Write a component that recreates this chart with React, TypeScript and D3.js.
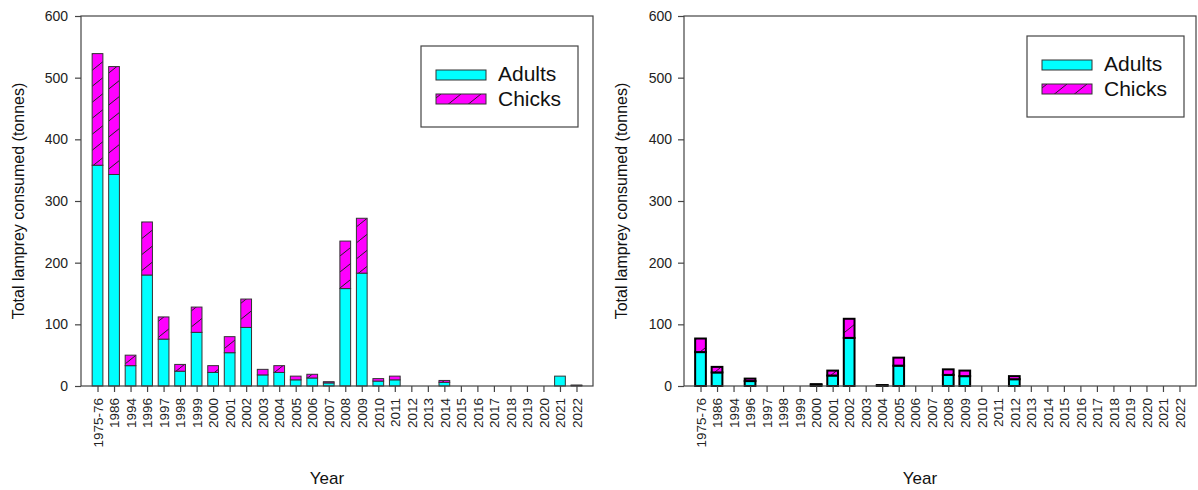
import React, { useRef, useEffect } from "react";
import * as d3 from "d3";

// categories shared by both panels
const years = [
  "1975-76", "1986", "1994", "1996", "1997", "1998", "1999", "2000", "2001", "2002",
  "2003", "2004", "2005", "2006", "2007", "2008", "2009", "2010", "2011", "2012",
  "2013", "2014", "2015", "2016", "2017", "2018", "2019", "2020", "2021", "2022",
];

// left panel (tonnes)
const leftAdults = [358, 343, 33, 180, 76, 24, 87, 22, 54, 95, 18, 22, 10, 13, 5, 158, 183, 8, 10, 0, 0, 6, 0, 0, 0, 0, 0, 0, 16, 1];
const leftChicks = [181, 175, 17, 86, 36, 11, 41, 11, 26, 46, 9, 11, 6, 6, 2, 77, 89, 4, 6, 0, 0, 3, 0, 0, 0, 0, 0, 0, 0, 0.5];

// right panel (tonnes)
const rightAdults = [55, 22, 0, 8, 0, 0, 0, 2, 17, 78, 0, 1, 33, 0, 0, 18, 16, 0, 0, 11, 0, 0, 0, 0, 0, 0, 0, 0, 0, 0];
const rightChicks = [22, 9, 0, 4, 0, 0, 0, 1, 8, 31, 0, 0.5, 13, 0, 0, 9, 9, 0, 0, 5, 0, 0, 0, 0, 0, 0, 0, 0, 0, 0];

const yTicks = [0, 100, 200, 300, 400, 500, 600];

const CYAN = "#00ffff";
const MAGENTA = "#ff00ff";
const FONT = "'Liberation Sans', Arial, sans-serif";

type Panel = {
  adults: number[];
  chicks: number[];
  x0: number;
  x1: number;
  barStroke: string;
  barStrokeWidth: number;
  legendX: number;
  legendY: number;
  yearX: number;
  tickLabelGap: number;
};

const panels: Panel[] = [
  { adults: leftAdults, chicks: leftChicks, x0: 81, x1: 593, barStroke: "#333", barStrokeWidth: 1, legendX: 421, legendY: 46, yearX: 327, tickLabelGap: 13 },
  { adults: rightAdults, chicks: rightChicks, x0: 684, x1: 1196, barStroke: "#000", barStrokeWidth: 2, legendX: 1027, legendY: 36, yearX: 920, tickLabelGap: 12 },
];

const TOP = 16;
const BOTTOM = 386;

const App = () => {
  const svgRef = useRef<SVGSVGElement>(null);

  useEffect(() => {
    const svgEl = d3.select(svgRef.current);
    svgEl.selectAll("*").remove();

    // hatch for chicks
    const defs = svgEl.append("defs");
    const pat = defs
      .append("pattern")
      .attr("id", "hatch")
      .attr("patternUnits", "userSpaceOnUse")
      .attr("width", 20)
      .attr("height", 16);
    pat.append("rect").attr("width", 20).attr("height", 16).attr("fill", MAGENTA);
    pat.append("line").attr("x1", 0).attr("y1", 16).attr("x2", 20).attr("y2", 0)
      .attr("stroke", "#222").attr("stroke-width", 1);

    panels.forEach((p) => {
      const g = svgEl.append("g");
      const x = d3.scalePoint<string>().domain(years).range([p.x0, p.x1]).padding(1);
      const y = d3.scaleLinear().domain([0, 600]).range([BOTTOM, TOP]);
      const bw = x.step() * 0.65;

      // bars
      const rows = years.map((yr, i) => ({ yr, a: p.adults[i], c: p.chicks[i] }));
      rows.forEach((d) => {
        const cx = x(d.yr)! - bw / 2;
        if (d.a > 0) {
          g.append("rect")
            .attr("x", cx).attr("y", y(d.a))
            .attr("width", bw).attr("height", y(0) - y(d.a))
            .attr("fill", CYAN).attr("stroke", p.barStroke).attr("stroke-width", p.barStrokeWidth);
        }
        if (d.c > 0) {
          g.append("rect")
            .attr("x", cx).attr("y", y(d.a + d.c))
            .attr("width", bw).attr("height", y(d.a) - y(d.a + d.c))
            .attr("fill", "url(#hatch)").attr("stroke", p.barStroke).attr("stroke-width", p.barStrokeWidth);
        }
      });

      // frame
      g.append("rect")
        .attr("x", p.x0).attr("y", TOP)
        .attr("width", p.x1 - p.x0).attr("height", BOTTOM - TOP)
        .attr("fill", "none").attr("stroke", "#444").attr("stroke-width", 1.2);

      // y axis
      const yAxis = g.append("g")
        .attr("transform", `translate(${p.x0},0)`)
        .call(d3.axisLeft(y).tickValues(yTicks).tickSize(6).tickPadding(p.tickLabelGap - 6));
      yAxis.select(".domain").remove();
      yAxis.selectAll("line").attr("stroke", "#444").attr("stroke-width", 1.2);
      yAxis.selectAll("text")
        .attr("font-family", FONT).attr("font-size", 14).attr("fill", "#222");

      // x axis
      const xAxis = g.append("g")
        .attr("transform", `translate(0,${BOTTOM})`)
        .call(d3.axisBottom(x).tickSize(6));
      xAxis.select(".domain").remove();
      xAxis.selectAll("line").attr("stroke", "#444").attr("stroke-width", 1.2);
      xAxis.selectAll("text")
        .attr("font-family", FONT).attr("font-size", 13.5).attr("fill", "#222")
        .attr("text-anchor", "end")
        .attr("transform", "rotate(-90)")
        .attr("x", -12).attr("y", 0).attr("dy", "0.35em");

      // titles
      g.append("text")
        .attr("transform", `translate(${p.x0 - 63},${(TOP + BOTTOM) / 2}) rotate(-90)`)
        .attr("text-anchor", "middle").attr("dy", "0.35em")
        .attr("font-family", FONT).attr("font-size", 16).attr("fill", "#111")
        .text("Total lamprey consumed (tonnes)");
      g.append("text")
        .attr("x", p.yearX).attr("y", 484)
        .attr("text-anchor", "middle")
        .attr("font-family", FONT).attr("font-size", 17).attr("fill", "#111")
        .text("Year");

      // legend
      const lg = g.append("g").attr("transform", `translate(${p.legendX},${p.legendY})`);
      lg.append("rect").attr("width", 157).attr("height", 81)
        .attr("fill", "#fff").attr("stroke", "#444").attr("stroke-width", 1.2);
      [
        { label: "Adults", fill: CYAN, sy: 24, ty: 35 },
        { label: "Chicks", fill: "url(#hatch)", sy: 48, ty: 60 },
      ].forEach((it) => {
        lg.append("rect").attr("x", 15).attr("y", it.sy).attr("width", 50).attr("height", 10)
          .attr("fill", it.fill).attr("stroke", "#333").attr("stroke-width", 1);
        lg.append("text").attr("x", 77).attr("y", it.ty)
          .attr("font-family", FONT).attr("font-size", 21).attr("fill", "#111")
          .text(it.label);
      });
    });
  }, []);

  return (
    <svg
      ref={svgRef}
      width={1198}
      height={490}
      style={{ position: "absolute", left: 0, top: 0, background: "#fff" }}
    />
  );
};

export default App;
